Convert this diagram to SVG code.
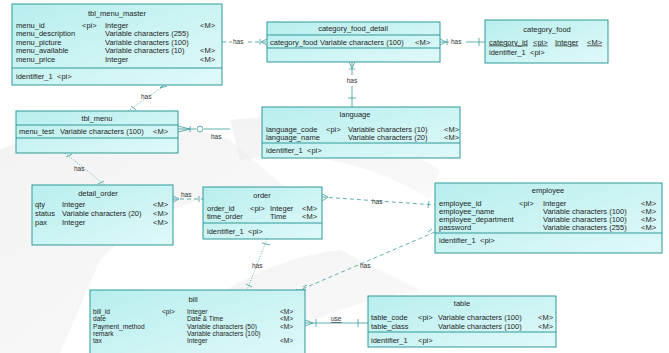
<svg xmlns="http://www.w3.org/2000/svg" width="669" height="353" viewBox="0 0 669 353">
<defs>
<linearGradient id="g" x1="0" y1="0" x2="1" y2="1">
<stop offset="0" stop-color="#b8eeee"/>
<stop offset="1" stop-color="#e0f9f9"/>
</linearGradient>
<linearGradient id="wm" x1="0" y1="0" x2="1" y2="1">
<stop offset="0" stop-color="#dcdcdc"/>
<stop offset="1" stop-color="#efefef"/>
</linearGradient>
</defs>
<style>
text { font-family: "Liberation Sans", Arial, sans-serif; font-size: 7.5px; fill: #1e1e1e; }
.h { text-anchor: middle; }
.u { text-decoration: underline; }
.sm { font-size: 6.6px; }
.box { fill: url(#g); stroke: #2f9999; stroke-width: 1; }
.sep { stroke: #2f9999; stroke-width: 1; fill: none; }
.c { stroke: #3a9c9c; fill: none; stroke-width: 0.8; }
.dot { stroke-dasharray: 1 1.6; }
.dash { stroke-dasharray: 4 3; }
.m { stroke: #3a9c9c; fill: none; stroke-width: 0.8; }
.lbl { font-size: 6.5px; fill: #333; }
.wm { fill: url(#wm); opacity: 0.35; }
</style>
<rect width="669" height="353" fill="#ffffff"/>
<g id="watermark">
<path class="wm" d="M0 150 C60 120 140 110 230 140 L300 200 C240 180 160 200 100 260 L60 353 L0 353 Z"/>
<path class="wm" d="M150 353 C200 300 260 260 340 250 L420 290 C360 300 300 320 260 353 Z"/>
<path class="wm" d="M230 120 C300 110 380 130 440 170 L430 200 C370 160 300 150 240 160 Z"/>
</g>

<g id="connectors">
<!-- tbl_menu_master -> category_food_detail -->
<path class="c dash" d="M222 42 H232 M248 42 H267"/>
<path class="m" d="M261 42 L267 39 M261 42 L267 45 M260 39 V45"/>
<text class="lbl" x="233" y="44">has</text>
<!-- category_food_detail -> category_food -->
<path class="c" d="M440 42 H449 M466 42 H485"/>
<path class="m" d="M446 42 L440 39 M446 42 L440 45 M447 39 V45 M479 38 V46"/>
<text class="lbl" x="451" y="44">has</text>
<!-- category_food_detail -> language -->
<path class="c" d="M352 62 V75 M352 86 V107"/>
<path class="m" d="M352 68 L349 62 M352 68 L355 62 M349 69 H355 M348 98 H356"/>
<text class="lbl h" x="352" y="83">has</text>
<!-- tbl_menu_master -> tbl_menu -->
<path class="c dot" d="M165 85 L128 111"/>
<path class="m" d="M160 88 L163 85 M160 88 L167 86 M131 106 L136 110"/>
<text class="lbl" x="141" y="99">has</text>
<!-- tbl_menu right -->
<path class="c" d="M178 129 H196 M204 129 H230"/>
<path class="m" d="M190 129 L178 126 M190 129 L178 132 M190 126 V132"/>
<circle class="m" cx="200" cy="129" r="3"/>
<text class="lbl" x="211" y="139">has</text>
<!-- tbl_menu -> detail_order -->
<path class="c dot" d="M65 153 L105 185"/>
<path class="m" d="M66 157 L72 154 M98 184 L104 181"/>
<text class="lbl" x="74" y="171">has</text>
<!-- detail_order -> order -->
<path class="c dash" d="M173 199 H203"/>
<path class="m" d="M179 199 L173 196 M179 199 L173 202 M199 196 V202"/>
<text class="lbl" x="181" y="197">has</text>
<!-- order -> employee -->
<path class="c dash" d="M322 197 L435 205"/>
<path class="m" d="M328 197 L322 194 M328 197 L322 201 M429 201 L428 208"/>
<text class="lbl" x="372" y="204">has</text>
<!-- employee -> bill -->
<path class="c dash" d="M435 232 L300 290"/>
<path class="m" d="M428 232 L432 229 M296 290 H306 M303 287 L307 285"/>
<text class="lbl" x="360" y="268">has</text>
<!-- order -> bill -->
<path class="c dot" d="M267 239 L247 290"/>
<path class="m" d="M262 243 L270 245 M246 284 L252 287"/>
<text class="lbl" x="252" y="268">has</text>
<!-- bill -> table -->
<path class="c" d="M305 323 H368"/>
<path class="m" d="M313 323 L305 320 M313 323 L305 326 M316 319 V327 M358 319 V327"/>
<text class="lbl u" x="331" y="321">use</text>
</g>

<g id="tbl_menu_master">
<rect class="box" x="12" y="4" width="210" height="81"/>
<path class="sep" d="M12 68 H222"/>
<text class="h" x="117" y="15.5">tbl_menu_master</text>
<text x="16" y="27.5">menu_id</text><text x="82" y="27.5">&lt;pi&gt;</text><text x="105" y="27.5">Integer</text><text x="200" y="27.5">&lt;M&gt;</text>
<text x="16" y="36">menu_description</text><text x="105" y="36">Variable characters (255)</text>
<text x="16" y="44.5">menu_picture</text><text x="105" y="44.5">Variable characters (100)</text>
<text x="16" y="53">menu_available</text><text x="105" y="53">Variable characters (10)</text><text x="200" y="53">&lt;M&gt;</text>
<text x="16" y="61.5">menu_price</text><text x="105" y="61.5">Integer</text><text x="200" y="61.5">&lt;M&gt;</text>
<text x="16" y="79">identifier_1</text><text x="57" y="79">&lt;pi&gt;</text>
</g>

<g id="category_food_detail">
<rect class="box" x="267" y="22" width="173" height="40"/>
<path class="sep" d="M267 35 H440 M267 48 H440"/>
<text class="h" x="353" y="31">category_food_detail</text>
<text x="270" y="44.5">category_food</text><text x="320" y="44.5">Variable characters (100)</text><text x="415" y="44.5">&lt;M&gt;</text>
</g>

<g id="category_food">
<rect class="box" x="485" y="20" width="123" height="43"/>
<text class="h" x="547" y="31.5">category_food</text>
<text class="u" x="489" y="44.5">category_id</text><text class="u" x="533" y="44.5">&lt;pi&gt;</text><text class="u" x="555" y="44.5">Integer</text><text class="u" x="587" y="44.5">&lt;M&gt;</text>
<text x="489" y="55">identifier_1</text><text x="530" y="55">&lt;pi&gt;</text>
</g>

<g id="language">
<rect class="box" x="262" y="107" width="198" height="51"/>
<path class="sep" d="M262 143 H460"/>
<text class="h" x="355" y="116.5">language</text>
<text x="266" y="131.5">language_code</text><text x="326" y="131.5">&lt;pi&gt;</text><text x="348" y="131.5">Variable characters (10)</text><text x="444" y="131.5">&lt;M&gt;</text>
<text x="266" y="139.5">language_name</text><text x="348" y="139.5">Variable characters (20)</text><text x="444" y="139.5">&lt;M&gt;</text>
<text x="266" y="153">identifier_1</text><text x="307" y="153">&lt;pi&gt;</text>
</g>

<g id="tbl_menu">
<rect class="box" x="16" y="111" width="162" height="42"/>
<path class="sep" d="M16 125 H178 M16 138 H178"/>
<text class="h" x="97" y="120.5">tbl_menu</text>
<text x="19" y="133.5">menu_test</text><text x="60" y="133.5">Variable characters (100)</text><text x="153" y="133.5">&lt;M&gt;</text>
</g>

<g id="detail_order">
<rect class="box" x="32" y="185" width="141" height="60"/>
<text class="h" x="98" y="195.5">detail_order</text>
<text x="35" y="206.5">qty</text><text x="62" y="206.5">Integer</text><text x="153" y="206.5">&lt;M&gt;</text>
<text x="35" y="215.5">status</text><text x="62" y="215.5">Variable characters (20)</text><text x="153" y="215.5">&lt;M&gt;</text>
<text x="35" y="224.5">pax</text><text x="62" y="224.5">Integer</text><text x="153" y="224.5">&lt;M&gt;</text>
</g>

<g id="order">
<rect class="box" x="203" y="187" width="119" height="52"/>
<path class="sep" d="M203 223 H322"/>
<text class="h" x="262" y="197.5">order</text>
<text x="207" y="210.5">order_id</text><text x="250" y="210.5">&lt;pi&gt;</text><text x="270" y="210.5">Integer</text><text x="302" y="210.5">&lt;M&gt;</text>
<text x="207" y="219">time_order</text><text x="270" y="219">Time</text><text x="302" y="219">&lt;M&gt;</text>
<text x="207" y="233.5">identifier_1</text><text x="248" y="233.5">&lt;pi&gt;</text>
</g>

<g id="employee">
<rect class="box" x="435" y="183" width="227" height="70"/>
<path class="sep" d="M435 233 H662"/>
<text class="h" x="548" y="192.5">employee</text>
<text x="439" y="205.5">employee_id</text><text x="519" y="205.5">&lt;pi&gt;</text><text x="543" y="205.5">Integer</text><text x="641" y="205.5">&lt;M&gt;</text>
<text x="439" y="213.5">employee_name</text><text x="543" y="213.5">Variable characters (100)</text><text x="641" y="213.5">&lt;M&gt;</text>
<text x="439" y="221.5">employee_department</text><text x="543" y="221.5">Variable characters (100)</text><text x="641" y="221.5">&lt;M&gt;</text>
<text x="439" y="229.5">password</text><text x="543" y="229.5">Variable characters (255)</text><text x="641" y="229.5">&lt;M&gt;</text>
<text x="439" y="243">identifier_1</text><text x="480" y="243">&lt;pi&gt;</text>
</g>

<g id="bill">
<rect class="box" x="90" y="290" width="215" height="70"/>
<text class="h" x="193" y="301.5">bill</text>
<text class="sm" x="93" y="314">bill_id</text><text class="sm" x="162" y="314">&lt;pi&gt;</text><text class="sm" x="187" y="314">Integer</text><text class="sm" x="280" y="314">&lt;M&gt;</text>
<text class="sm" x="93" y="321.3">date</text><text class="sm" x="187" y="321.3">Date &amp; Time</text><text class="sm" x="280" y="321.3">&lt;M&gt;</text>
<text class="sm" x="93" y="328.6">Payment_method</text><text class="sm" x="187" y="328.6">Variable characters (50)</text><text class="sm" x="280" y="328.6">&lt;M&gt;</text>
<text class="sm" x="93" y="335.9">remark</text><text class="sm" x="187" y="335.9">Variable characters (100)</text>
<text class="sm" x="93" y="343.2">tax</text><text class="sm" x="187" y="343.2">Integer</text><text class="sm" x="280" y="343.2">&lt;M&gt;</text>
</g>

<g id="table">
<rect class="box" x="368" y="296" width="188" height="51"/>
<path class="sep" d="M368 332 H556"/>
<text class="h" x="462" y="305.5">table</text>
<text x="371" y="319.5">table_code</text><text x="418" y="319.5">&lt;pi&gt;</text><text x="438" y="319.5">Variable characters (100)</text><text x="538" y="319.5">&lt;M&gt;</text>
<text x="371" y="328.5">table_class</text><text x="438" y="328.5">Variable characters (100)</text><text x="538" y="328.5">&lt;M&gt;</text>
<text x="371" y="342.5">identifier_1</text><text x="418" y="342.5">&lt;pi&gt;</text>
</g>
</svg>
